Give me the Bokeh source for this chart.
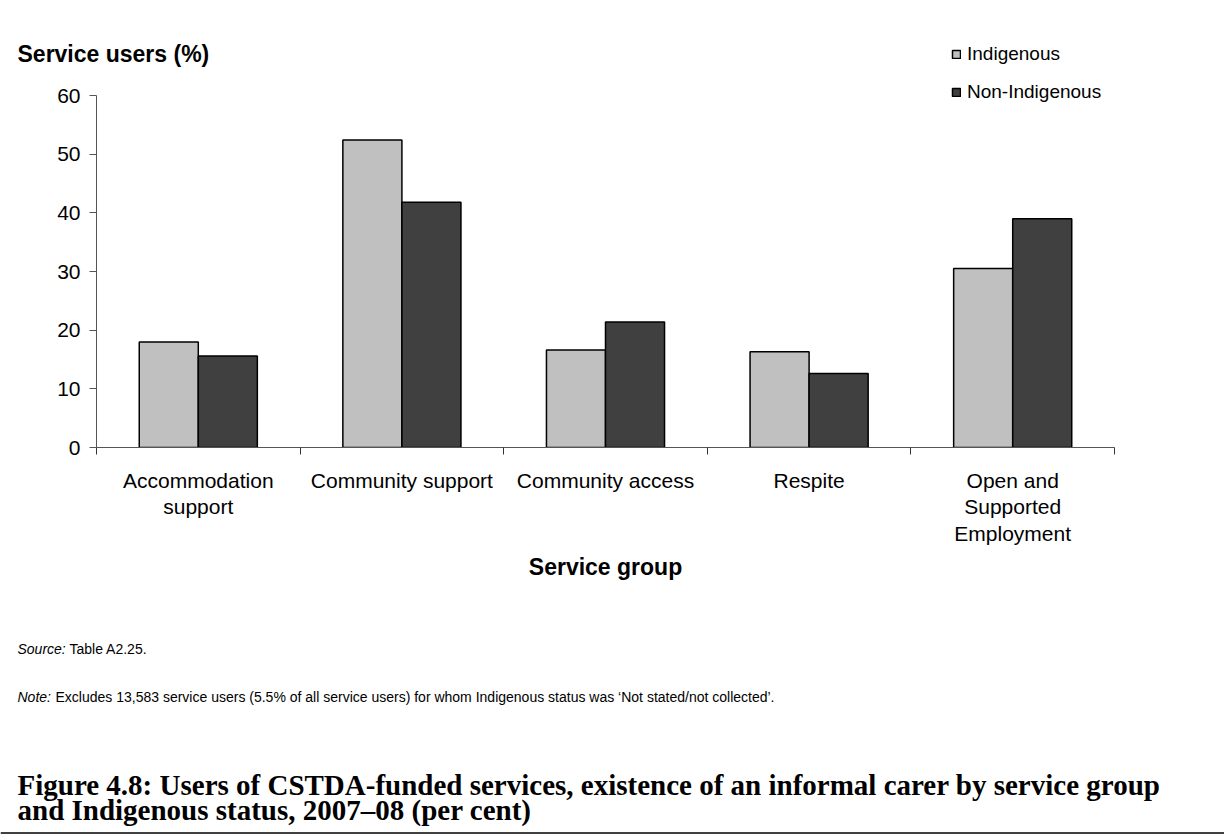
from bokeh.plotting import figure
from bokeh.models import (Range1d, FixedTicker, LinearAxis, Label, Legend, LegendItem,
                          ColumnDataSource, Span)
from bokeh.layouts import column
from bokeh.transform import dodge
from bokeh.embed import file_html
from bokeh.resources import INLINE

# ---------------- data ----------------
categories = ["Accommodation support", "Community support", "Community access",
              "Respite", "Open and Supported Employment"]
tick_labels = ["Accommodation\nsupport", "Community support", "Community access",
               "Respite", "Open and\nSupported\nEmployment"]
series = ["Indigenous", "Non-Indigenous"]
indigenous = [18.0, 52.4, 16.6, 16.3, 30.5]
non_indigenous = [15.6, 41.8, 21.4, 12.6, 39.0]
y_ticks = [0, 10, 20, 30, 40, 50, 60]
colors = ["#C0C0C0", "#404040"]

# ---------------- layout (canvas pixels) ----------------
W, H = 1224, 836
HEAD = 80            # header strip height
MAIN_END = 617       # main figure ends here
FL, FR = 96, 1114    # plot frame left / right
Y0, Y60 = 447, 95    # canvas y of value 0 and value 60
SANS = "Liberation Sans"
SERIF = "Liberation Serif"

# ---------------- main chart ----------------
centers = [i + 0.5 for i in range(len(categories))]
source = ColumnDataSource(dict(x=centers, cat=categories,
                               ind=indigenous, non=non_indigenous))

px_per_unit = (Y0 - Y60) / 60.0
y_top = (Y0 - HEAD) / px_per_unit
main_h = MAIN_END - HEAD
p = figure(width=W, height=main_h, x_range=Range1d(0, len(categories)),
           y_range=Range1d(0, y_top), output_backend="svg", toolbar_location=None,
           x_axis_type=None, y_axis_type=None,
           min_border_left=FL, min_border_right=W - FR,
           min_border_top=0, min_border_bottom=main_h - (Y0 - HEAD))
p.outline_line_color = None
p.frame_align = False

bw = 0.29
r1 = p.vbar(x=dodge("x", -bw / 2), top="ind", width=bw, source=source,
            fill_color=colors[0], line_color="black", line_width=1.5)
r2 = p.vbar(x=dodge("x", bw / 2), top="non", width=bw, source=source,
            fill_color=colors[1], line_color="black", line_width=1.5)

yaxis = LinearAxis(ticker=FixedTicker(ticks=y_ticks), bounds=(0, 60))
yaxis.axis_line_color = "#555555"
yaxis.major_tick_line_color = "#555555"
yaxis.major_tick_out = 7
yaxis.major_tick_in = 0
yaxis.minor_tick_out = 0
yaxis.minor_tick_in = 0
yaxis.major_label_text_font = SANS
yaxis.major_label_text_font_size = "21px"
yaxis.major_label_text_color = "black"
yaxis.major_label_standoff = 9
p.add_layout(yaxis, "left")

xaxis = LinearAxis(ticker=FixedTicker(ticks=centers,
                                      minor_ticks=list(range(len(categories) + 1))))
xaxis.major_label_overrides = {c: t for c, t in zip(centers, tick_labels)}
xaxis.axis_line_color = "#555555"
xaxis.major_tick_out = 0
xaxis.major_tick_in = 0
xaxis.minor_tick_out = 7
xaxis.minor_tick_in = 0
xaxis.minor_tick_line_color = "#333333"
xaxis.major_label_text_font = SANS
xaxis.major_label_text_font_size = "21px"
xaxis.major_label_text_color = "black"
xaxis.major_label_text_line_height = 1.17
xaxis.major_label_standoff = 14
xaxis.axis_label = "Service group"
xaxis.axis_label_text_font = SANS
xaxis.axis_label_text_font_size = "23px"
xaxis.axis_label_text_font_style = "bold"
xaxis.axis_label_text_color = "black"
xaxis.axis_label_standoff = 6
p.add_layout(xaxis, "below")

LEG_X = 951


def style_legend(lg):
    lg.glyph_width = 10
    lg.glyph_height = 10
    lg.label_height = 20
    lg.padding = 0
    lg.margin = 0
    lg.spacing = 0
    lg.label_standoff = 6
    lg.label_text_font = SANS
    lg.label_text_font_size = "19px"
    lg.label_text_color = "black"
    lg.border_line_color = None
    lg.background_fill_alpha = 0


leg2 = Legend(items=[LegendItem(label=series[1], renderers=[r2])],
              location=(LEG_X - FL, Y0 - 103))
style_legend(leg2)
p.add_layout(leg2)

# ---------------- header strip ----------------
hdr = figure(width=W, height=HEAD, x_range=Range1d(0, W), y_range=Range1d(HEAD, 0),
             output_backend="svg", toolbar_location=None,
             x_axis_type=None, y_axis_type=None, min_border=0)
hdr.outline_line_color = None
hdr.grid.visible = False
hdr.frame_align = False
# legend key for the first series (no visible bar of its own)
nan = float("nan")
proxy = hdr.vbar(x=[nan], top=[nan], width=1, fill_color=colors[0],
                 line_color="black", line_width=1.5)
leg1 = Legend(items=[LegendItem(label=series[0], renderers=[proxy])],
              location=(LEG_X, HEAD - 65))
style_legend(leg1)
hdr.add_layout(leg1)
hdr.add_layout(Label(x=17, y=53, text="Service users (%)", text_font=SANS,
                     text_font_size="23px", text_font_style="bold",
                     text_color="black", text_baseline="middle"))

# ---------------- footer strip ----------------
foot_h = H - MAIN_END
ftr = figure(width=W, height=foot_h, x_range=Range1d(0, W),
             y_range=Range1d(H, MAIN_END), output_backend="svg",
             toolbar_location=None, x_axis_type=None, y_axis_type=None, min_border=0)
ftr.outline_line_color = None
ftr.grid.visible = False
ftr.frame_align = False


def ftext(text, X, Y, size, style="normal", font=SANS):
    ftr.add_layout(Label(x=X, y=Y, text=text, text_font=font, text_font_size=size,
                         text_font_style=style, text_color="black",
                         text_align="left", text_baseline="middle"))


ftext("Source:", 17, 648, "14px", "italic")
ftext("Table A2.25.", 69, 648, "14px")
ftext("Note:", 17, 696, "14px", "italic")
ftext("Excludes 13,583 service users (5.5% of all service users) for whom "
      "Indigenous status was \u2018Not stated/not collected\u2019.", 55, 696, "14px")
ftext("Figure 4.8: Users of CSTDA-funded services, existence of an informal carer "
      "by service group", 17, 784, "29px", "bold", SERIF)
ftext("and Indigenous status, 2007\u201308 (per cent)", 17, 809, "29px", "bold", SERIF)
ftr.add_layout(Span(location=832.5, dimension="width", line_color="black",
                    line_width=1.5))

layout = column(hdr, p, ftr, spacing=0)
open("out.html", "w").write(file_html(layout, INLINE))
